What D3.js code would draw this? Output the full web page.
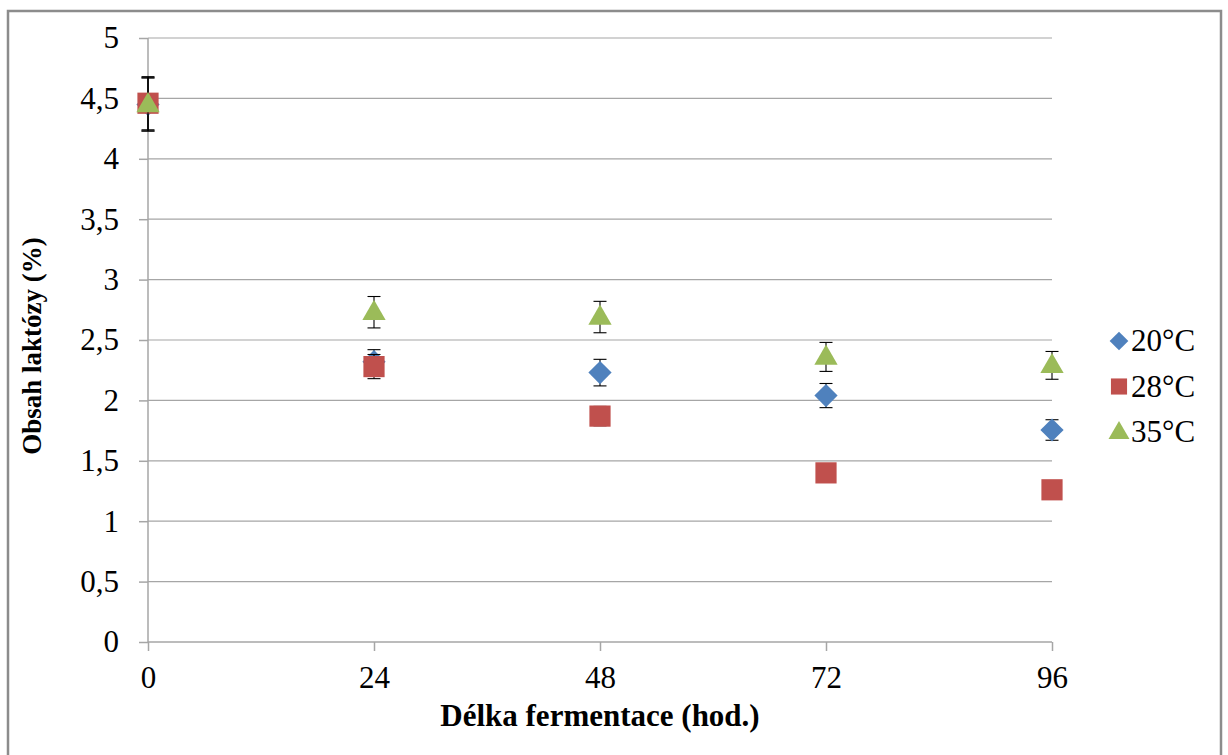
<!DOCTYPE html>
<html>
<head>
<meta charset="utf-8">
<script src="https://cdn.jsdelivr.net/npm/d3@7"></script>
<style>
  body { margin: 0; background: #fff; }
  svg { display: block; }
  text { font-family: "Liberation Serif", "Times New Roman", serif; fill: #000; }
</style>
</head>
<body>
<svg id="chart" width="1228" height="755"></svg>
<script>
// data
var hours = [0, 24, 48, 72, 96];
var series = ['20°C', '28°C', '35°C'];
var values20 = [4.45, 2.32, 2.23, 2.04, 1.755];
var errors20 = [0.22, 0.10, 0.11, 0.10, 0.085];
var values28 = [4.46, 2.28, 1.87, 1.40, 1.26];
var errors28 = [0.22, 0.10, 0.08, 0.04, 0.03];
var values35 = [4.45, 2.73, 2.69, 2.36, 2.29];
var errors35 = [0.22, 0.13, 0.13, 0.12, 0.115];
var yTicks = [0, 0.5, 1, 1.5, 2, 2.5, 3, 3.5, 4, 4.5, 5];

var colors = ['#4F81BD', '#C0504D', '#9BBB59'];
// diamond = square turned 45 degrees (Excel style)
var shapes = [d3.symbolSquare, d3.symbolSquare, d3.symbolTriangle];
var rotations = [45, 0, 0];
var allValues = [values20, values28, values35];
var allErrors = [errors20, errors28, errors35];

var svg = d3.select('#chart');

// outer chart border
svg.append('rect')
    .attr('x', 8).attr('y', 11)
    .attr('width', 1213).attr('height', 760)
    .attr('fill', 'none')
    .attr('stroke', '#8c8c8c')
    .attr('stroke-width', 2.5);

var x = d3.scaleLinear().domain([0, 96]).range([148, 1052]);
var y = d3.scaleLinear().domain([0, 5]).range([642, 38]);

// horizontal gridlines
svg.selectAll('.grid')
    .data(yTicks.slice(1))
    .join('line')
    .classed('grid', true)
    .attr('x1', x(0)).attr('x2', x(96))
    .attr('y1', d => y(d)).attr('y2', d => y(d))
    .attr('stroke', '#a6a6a6')
    .attr('stroke-width', 1.2);

// y axis
var yAxis = svg.append('g')
    .attr('transform', `translate(${x(0)},0)`)
    .call(d3.axisLeft(y).tickValues(yTicks).tickSize(9).tickPadding(20)
        .tickFormat(d => String(d).replace('.', ',')));
yAxis.select('.domain').attr('stroke', '#a6a6a6').attr('stroke-width', 1.5).attr('d', `M0,${y(5)}V${y(0)}`);
yAxis.selectAll('.tick line').attr('stroke', '#a6a6a6').attr('stroke-width', 1.5);
yAxis.selectAll('.tick text').attr('font-size', 31).attr('fill', '#000');

// x axis
var xAxis = svg.append('g')
    .attr('transform', `translate(0,${y(0)})`)
    .call(d3.axisBottom(x).tickValues(hours).tickSize(9).tickPadding(15));
xAxis.select('.domain').attr('stroke', '#a6a6a6').attr('stroke-width', 1.5).attr('d', `M${x(0)},0H${x(96)}`);
xAxis.selectAll('.tick line').attr('stroke', '#a6a6a6').attr('stroke-width', 1.5);
xAxis.selectAll('.tick text').attr('font-size', 31).attr('fill', '#000');

// axis titles
svg.append('text')
    .attr('x', 600).attr('y', 726)
    .attr('text-anchor', 'middle')
    .attr('font-size', 31).attr('font-weight', 'bold')
    .text('Délka fermentace (hod.)');

svg.append('text')
    .attr('transform', 'translate(41,346) rotate(-90)')
    .attr('text-anchor', 'middle')
    .attr('font-size', 27).attr('font-weight', 'bold')
    .text('Obsah laktózy (%)');

// series: error bars, then markers
var symbolSizes = [270, 450, 235];
allValues.forEach(function (vals, s) {
    var pts = hours.map((h, i) => ({ h: h, v: vals[i], e: allErrors[s][i] }));
    var g = svg.append('g').classed('series', true);

    var eb = g.selectAll('.err').data(pts).join('g').classed('err', true);
    eb.append('line')
        .attr('x1', d => x(d.h)).attr('x2', d => x(d.h))
        .attr('y1', d => y(d.v + d.e)).attr('y2', d => y(d.v - d.e))
        .attr('stroke', '#000').attr('stroke-width', 1.1);
    eb.selectAll('.cap')
        .data(d => [[d.h, d.v + d.e], [d.h, d.v - d.e]])
        .join('line')
        .classed('cap', true)
        .attr('x1', d => x(d[0]) - 6.5).attr('x2', d => x(d[0]) + 6.5)
        .attr('y1', d => y(d[1])).attr('y2', d => y(d[1]))
        .attr('stroke', '#000').attr('stroke-width', 1.1);

    var sym = d3.symbol().type(shapes[s]).size(symbolSizes[s]);
    g.selectAll('.pt').data(pts).join('path')
        .classed('pt', true)
        .attr('transform', d => `translate(${x(d.h)},${y(d.v) + (s === 2 ? 1 : 0)}) rotate(${rotations[s]})`)
        .attr('d', sym)
        .attr('fill', colors[s]);
});

// legend
var legend = svg.selectAll('.legend')
    .data(series)
    .join('g')
    .classed('legend', true)
    .attr('transform', (d, i) => `translate(1119,${341 + i * 45.5})`);
legend.append('path')
    .attr('d', (d, i) => d3.symbol().type(shapes[i]).size([175, 260, 190][i])())
    .attr('transform', (d, i) => `rotate(${rotations[i]})` + (i === 2 ? ' translate(0,1)' : ''))
    .attr('fill', (d, i) => colors[i]);
legend.append('text')
    .attr('x', 12).attr('y', 10)
    .attr('font-size', 31)
    .text(d => d);
</script>
</body>
</html>
